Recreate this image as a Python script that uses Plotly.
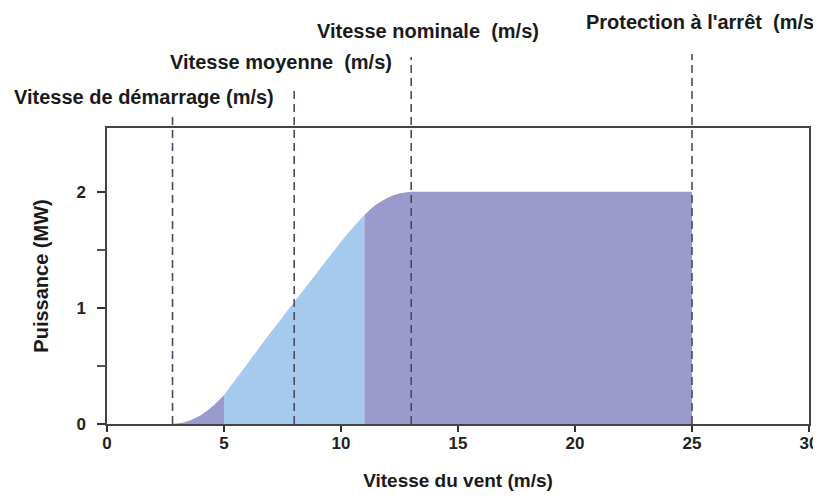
import plotly.graph_objects as go

# Power curve data (wind speed m/s, power MW)
wind_speed = [2.8, 3.2, 3.6, 4.0, 4.5, 5.0, 5.5, 6.0, 6.5, 7.0, 7.5, 8.0, 8.5, 9.0,
              9.5, 10.0, 10.5, 11.0, 11.5, 12.0, 12.5, 13.0, 14.0, 25.0]
power_mw = [0.0, 0.01, 0.035, 0.075, 0.15, 0.25, 0.385, 0.52, 0.655, 0.79, 0.92, 1.05, 1.18, 1.31,
            1.44, 1.57, 1.69, 1.80, 1.89, 1.95, 1.985, 2.0, 2.0, 2.0]

# Segment boundaries for the shaded zones
zone_bounds = [(2.8, 5.0), (5.0, 11.0), (11.0, 25.0)]
zone_colors = ["#9a9acc", "#a6c9ee", "#9a9acc"]

# Reference speeds (dashed lines) and labels
ref_speeds = [2.8, 8.0, 13.0, 25.0]
ref_labels = ["Vitesse de démarrage (m/s)", "Vitesse moyenne  (m/s)",
              "Vitesse nominale  (m/s)", "Protection à l'arrêt  (m/s)"]

x_ticks = [0, 5, 10, 15, 20, 25, 30]
y_ticks = [0, 1, 2]

FONT = "Liberation Sans, Arial, sans-serif"

# page has an 8px body margin: work in figure pixels
OFF = 8
W, H = 821 - OFF, 501 - OFF
PLOT_L, PLOT_R, PLOT_T, PLOT_B = 107 - OFF, 809 - OFF, 128 - OFF, 424 - OFF

fig = go.Figure()

for (lo, hi), col in zip(zone_bounds, zone_colors):
    xs = [x for x in wind_speed if lo <= x <= hi]
    ys = [y for x, y in zip(wind_speed, power_mw) if lo <= x <= hi]
    fig.add_trace(go.Scatter(x=xs, y=ys, mode="lines",
                             line=dict(width=0, shape="spline", smoothing=0.8),
                             fill="tozeroy", fillcolor=col, hoverinfo="skip", showlegend=False))

# dashed lines extending above the plot (top in page pixels)
line_tops_px = [116, 90, 57, 54]
for xv, top in zip(ref_speeds, line_tops_px):
    ytop = (PLOT_B - (top - OFF)) / (PLOT_B - PLOT_T)
    fig.add_shape(type="line", xref="x", yref="paper", x0=xv, x1=xv, y0=0, y1=ytop,
                  line=dict(color="#4a4a5e", width=1.6, dash="8px,5px"), layer="above")

# labels (centre positions in page pixels)
label_pos = [(144, 97), (281, 62), (428, 31), (703, 22)]
for (cx, cy), txt in zip(label_pos, ref_labels):
    fig.add_annotation(text="<b>" + txt + "</b>", xref="paper", yref="paper",
                       x=(cx - OFF - PLOT_L) / (PLOT_R - PLOT_L),
                       y=(PLOT_B - (cy - OFF)) / (PLOT_B - PLOT_T),
                       showarrow=False, xanchor="center", yanchor="middle",
                       font=dict(family=FONT, size=20, color="#1a1a1a"))

fig.update_layout(
    width=W, height=H,
    margin=dict(l=PLOT_L, r=W - PLOT_R, t=PLOT_T, b=H - PLOT_B),
    paper_bgcolor="white", plot_bgcolor="white",
    font=dict(family=FONT, color="#222"),
    xaxis=dict(range=[0, 30], tickvals=x_ticks, ticktext=["<b>%d</b>" % v for v in x_ticks],
               ticks="outside", ticklen=6, tickwidth=1.5, ticklabelstandoff=-3,
               tickcolor="#333", showline=True, linecolor="#444", linewidth=1.5, mirror=True,
               showgrid=False, zeroline=False, automargin=False,
               tickfont=dict(family=FONT, size=17, color="#222"),
               title=dict(text="<b>Vitesse du vent (m/s)</b>", standoff=22,
                          font=dict(family=FONT, size=19, color="#1a1a1a"))),
    yaxis=dict(range=[0, 2.55], tickvals=y_ticks, ticktext=["<b>0</b>", "<b>1</b>", "<b>2</b>"],
               ticks="outside", ticklen=8, tickwidth=1.5, ticklabelstandoff=8,
               tickcolor="#333", showline=True, linecolor="#444", linewidth=1.5, mirror=True,
               showgrid=False, zeroline=False, automargin=False,
               minor=dict(tickvals=[0.5, 1.5], ticks="outside", ticklen=8, tickwidth=1.5, tickcolor="#555"),
               tickfont=dict(family=FONT, size=17, color="#222"),
               title=dict(text="<b>Puissance (MW)</b>", standoff=22,
                          font=dict(family=FONT, size=20, color="#1a1a1a"))),
)

fig.write_html("out.html")
